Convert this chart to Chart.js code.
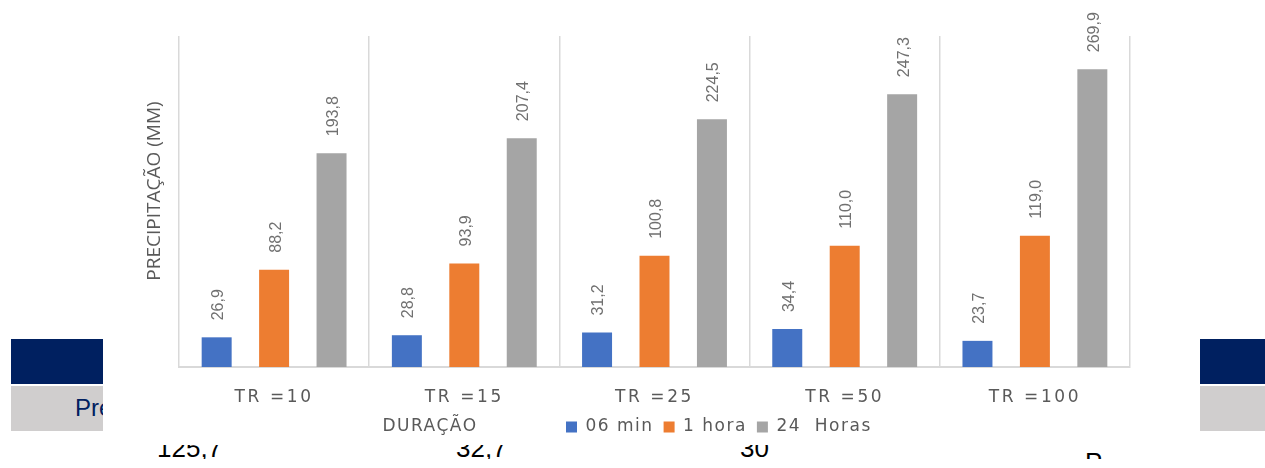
<!DOCTYPE html>
<html>
<head>
<meta charset="utf-8">
<script src="https://cdn.jsdelivr.net/npm/chart.js@4.4.1/dist/chart.umd.min.js"></script>
<style>
html,body{margin:0;padding:0;background:#fff;}
body{width:1265px;height:468px;position:relative;overflow:hidden;font-family:"Liberation Sans",Arial,sans-serif;}
.blk{position:absolute;}
#chartBox{position:absolute;left:103px;top:0;width:1097px;height:445px;background:#fff;z-index:2;}
#bottomRow{position:absolute;left:0;top:445px;width:1265px;height:14px;overflow:hidden;z-index:1;}
#bottomRow span{position:absolute;font-size:26px;line-height:26px;color:#000;white-space:nowrap;}
</style>
</head>
<body>
<div class="blk" style="left:11px;top:339px;width:120px;height:45px;background:#002060"></div>
<div class="blk" style="left:11px;top:386px;width:120px;height:45px;background:#d0cece;overflow:hidden">
  <span style="position:absolute;left:64px;top:10px;font-size:24px;line-height:24px;color:#002060;white-space:nowrap">Precipitação</span>
</div>
<div class="blk" style="left:1200px;top:339px;width:65px;height:45px;background:#002060"></div>
<div class="blk" style="left:1200px;top:386px;width:65px;height:45px;background:#d0cece"></div>
<div id="bottomRow">
  <span style="left:157px;top:-10px">125,7</span>
  <span style="left:456px;top:-10px">32,7</span>
  <span style="left:740px;top:-10px">30</span>
  <span style="left:1085px;top:4px">P</span>
</div>
<div id="chartBox"><canvas id="c"></canvas></div>
<script>
// ---- data ----
const categories = ['TR =10', 'TR =15', 'TR =25', 'TR =50', 'TR =100'];
const seriesNames = ['06 min', '1 hora', '24  Horas'];
const min06 = [26.9, 28.8, 31.2, 34.4, 23.7];
const hora1 = [88.2, 93.9, 100.8, 110.0, 119.0];
const horas24 = [193.8, 207.4, 224.5, 247.3, 269.9];
const yTitle = 'PRECIPITAÇÃO (MM)';
const xTitle = 'DURAÇÃO';
const yMin = 0, yMax = 300;

// ---- styling ----
const colors = ['#4472C4', '#ED7D31', '#A5A5A5'];
const TEXT = '#595959';
const LEGEND_X = 463;   // left of first legend box (container coords)
const LEGEND_CY = 427;  // vertical centre of legend items
const X_AXIS_H = 41;
const LS = '1.5px';
const TICK_LS = '2.6px';

Chart.defaults.font.family = '"DejaVu Sans", sans-serif';

const textPlugin = {
  id: 'texts',
  beforeUpdate(chart) { chart.ctx.letterSpacing = LS; },
  beforeDraw(chart) { chart.ctx.letterSpacing = LS; },
  afterLayout(chart) {
    const lg = chart.legend;
    if (!lg || !lg.lineWidths) return;
    const pad = lg.options.labels.padding;
    const curX = (lg.left + pad + lg.right - lg.lineWidths[0]) / 2;
    const dx = LEGEND_X - curX;
    lg.left += dx; lg.right += dx;
    const fs = lg.options.labels.font.size;
    const curC = lg.top + pad + fs / 2;
    const dy = LEGEND_CY - curC;
    lg.top += dy; lg.bottom += dy;
  },
  afterDatasetsDraw(chart) {
    const ctx = chart.ctx;
    ctx.save();
    ctx.letterSpacing = '0px';
    ctx.font = '16px "Liberation Sans", Arial, sans-serif';
    ctx.fillStyle = '#707070';
    ctx.textAlign = 'left';
    ctx.textBaseline = 'middle';
    chart.data.datasets.forEach((ds, di) => {
      const meta = chart.getDatasetMeta(di);
      meta.data.forEach((bar, i) => {
        const v = ds.data[i];
        ctx.save();
        ctx.translate(bar.x + 2, bar.y - 17);
        ctx.rotate(-Math.PI / 2);
        ctx.fillText(v.toFixed(1).replace('.', ','), 0, 0);
        ctx.restore();
      });
    });
    ctx.restore();
    // category tick labels (drawn after datasets, z:1) get wider spacing
    ctx.letterSpacing = TICK_LS;
  },
  afterDraw(chart) {
    const ctx = chart.ctx;
    ctx.letterSpacing = LS;
    ctx.save();
    ctx.fillStyle = TEXT;
    ctx.textAlign = 'center';
    ctx.textBaseline = 'middle';
    // y title
    ctx.letterSpacing = '0px';
    ctx.font = '19px "Open Sans", sans-serif';
    ctx.save();
    ctx.translate(52, 191);
    ctx.rotate(-Math.PI / 2);
    ctx.fillText(yTitle, 0, 0);
    ctx.restore();
    // x title
    ctx.letterSpacing = LS;
    ctx.font = '17px "DejaVu Sans", sans-serif';
    ctx.fillText(xTitle, 327, 427);
    ctx.restore();
  }
};

const datasets = [min06, hora1, horas24].map((arr, i) => ({
  label: seriesNames[i],
  data: arr,
  backgroundColor: colors[i],
  borderColor: colors[i],
  borderWidth: 0,
  categoryPercentage: 0.906,
  barPercentage: 0.522
}));

new Chart(document.getElementById('c'), {
  type: 'bar',
  data: { labels: categories, datasets },
  plugins: [textPlugin],
  options: {
    responsive: true,
    maintainAspectRatio: false,
    animation: false,
    layout: { padding: { left: 76, right: 70, top: 36, bottom: 0 } },
    plugins: {
      tooltip: { enabled: false },
      title: { display: false },
      legend: {
        display: true,
        position: 'bottom',
        labels: {
          color: TEXT,
          font: { family: '"DejaVu Sans", sans-serif', size: 17 },
          boxWidth: 11,
          boxHeight: 11,
          padding: 10
        }
      }
    },
    scales: {
      x: {
        grid: { color: '#d9d9d9', lineWidth: 1.5, drawTicks: false, offset: true },
        border: { color: '#d9d9d9', width: 2 },
        ticks: { z: 1, color: TEXT, font: { family: '"DejaVu Sans", sans-serif', size: 17 }, padding: 20, maxRotation: 0 },
        afterFit(s) { s.height = X_AXIS_H; }
      },
      y: { display: false, min: yMin, max: yMax }
    }
  }
});
</script>
</body>
</html>
